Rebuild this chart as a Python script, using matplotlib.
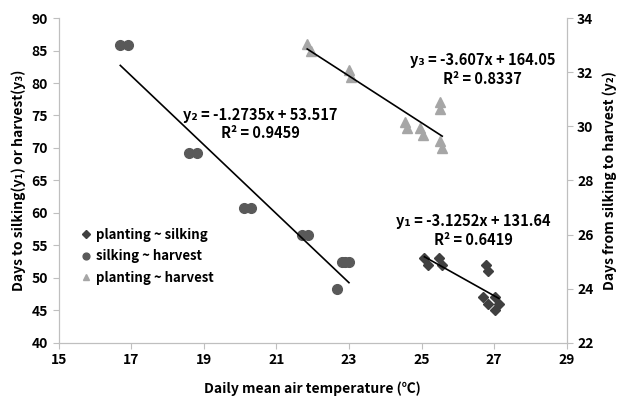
import numpy as np
import matplotlib
matplotlib.use("Agg")
import matplotlib.pyplot as plt

plt.rcParams['font.family'] = ['Noto Sans CJK KR', 'DejaVu Sans']
plt.rcParams['font.weight'] = 'bold'

# planting ~ silking (left axis, y1)
ps_x = [25.08, 25.17, 25.48, 25.55, 26.78, 26.82, 26.7, 26.82, 27.02, 27.13, 27.02]
ps_y = [53, 52, 53, 52, 52, 51, 47, 46, 47, 46, 45]

# silking ~ harvest (right axis, y2)
sh_x = [16.7, 16.92, 18.6, 18.82, 20.1, 20.3, 21.7, 21.88, 22.8, 22.9, 23.0, 22.66]
sh_y = [33, 33, 29, 29, 27, 27, 26, 26, 25, 25, 25, 24]

# planting ~ harvest (left axis, y3)
ph_x = [21.85, 21.95, 23.0, 23.05, 24.55, 24.6, 24.95, 25.05, 25.5, 25.5, 25.5, 25.57]
ph_y = [86, 85, 82, 81, 74, 73, 73, 72, 77, 76, 71, 70]

# regression coefficients (slope, intercept)
fit1 = (-3.1252, 131.64)
fit2 = (-1.2735, 53.517)
fit3 = (-3.607, 164.05)

axis_col = '#bfbfbf'

fig = plt.figure(figsize=(6.26, 4.03), dpi=100)
ax = fig.add_axes([0.0936, 0.149, 0.8117, 0.8063])
ax2 = ax.twinx()

h1, = ax.plot(ps_x, ps_y, 'D', color='#404040', markersize=5.5, linestyle='none',
              label='planting ~ silking')
h3, = ax.plot(ph_x, ph_y, '^', color='#a6a6a6', markersize=7, linestyle='none',
              label='planting ~ harvest')
h2, = ax2.plot(sh_x, sh_y, 'o', color='#595959', markersize=7, linestyle='none',
               label='silking ~ harvest')

# trend lines
for xs, fit, a in [(ps_x, fit1, ax), (ph_x, fit3, ax), (sh_x, fit2, ax2)]:
    xx = np.array([min(xs), max(xs)])
    a.plot(xx, fit[0] * xx + fit[1], color='black', lw=1.2)

ax.set_xlim(15, 29)
ax.set_ylim(40, 90)
ax2.set_ylim(22, 34)
ax.set_xticks(range(15, 30, 2))
ax.set_yticks(range(40, 91, 5))
ax2.set_yticks(range(22, 35, 2))

for a in (ax, ax2):
    a.spines['top'].set_visible(False)
    for s in ('left', 'right', 'bottom'):
        a.spines[s].set_color(axis_col)
    a.tick_params(colors=axis_col, labelcolor='black', labelsize=10, length=4)

ax.set_xlabel('Daily mean air temperature (℃)', fontsize=10, fontweight='bold', labelpad=10)
ax.set_ylabel('Days to silking(y₁) or harvest(y₃)', fontsize=10, fontweight='bold', labelpad=4)
ax2.set_ylabel('Days from silking to harvest (y₂)', fontsize=10, fontweight='bold', labelpad=6)

tkw = dict(fontsize=10.5, fontweight='bold', ha='center', va='center')
ax.text(20.55, 75.1, 'y₂ = -1.2735x + 53.517', **tkw)
ax.text(20.55, 72.3, 'R² = 0.9459', **tkw)
ax.text(26.68, 83.5, 'y₃ = -3.607x + 164.05', **tkw)
ax.text(26.68, 80.6, 'R² = 0.8337', **tkw)
ax.text(26.42, 58.7, 'y₁ = -3.1252x + 131.64', **tkw)
ax.text(26.42, 55.8, 'R² = 0.6419', **tkw)

leg = ax2.legend([h1, h2, h3], [h1.get_label(), h2.get_label(), h3.get_label()],
                 loc='upper left', bbox_to_anchor=(0.02, 0.39), frameon=False,
                 handlelength=0.8, handletextpad=0.4, labelspacing=0.55,
                 prop={'size': 9.5, 'weight': 'bold'}, markerscale=0.7)

fig.savefig('out.png', dpi=100)
